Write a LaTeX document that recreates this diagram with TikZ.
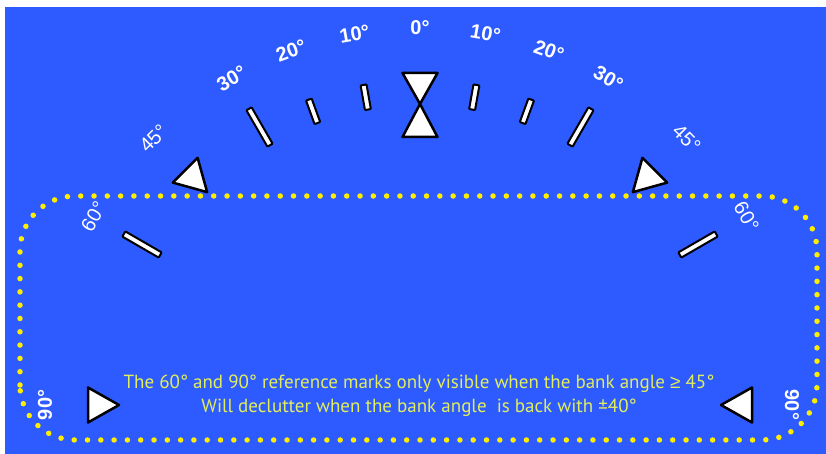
\documentclass[tikz,border=0pt]{standalone}
\usepackage{fontspec}
\setmainfont{Liberation Sans}
\newfontfamily\notefont{PT Sans}
\newfontfamily\symfont{Liberation Sans}
\definecolor{bgblue}{RGB}{46,91,255}
\definecolor{dotyellow}{RGB}{255,238,0}
\definecolor{notecol}{RGB}{226,238,90}
\begin{document}
\begin{tikzpicture}[x=1pt,y=1pt,
  tickbox/.style={draw=black,fill=white,line width=2pt,rounded corners=0.8pt},
  tri/.style={draw=black,fill=white,line width=2.5pt,line join=round},
  lab/.style={text=white,font=\bfseries\fontsize{20}{20}\selectfont,inner sep=0pt},
  labreg/.style={text=white,font=\fontsize{20}{20}\selectfont,inner sep=0pt},
  note/.style={text=notecol,font=\notefont\fontsize{19}{24}\selectfont,align=center,inner sep=0pt},
  dotline/.style={draw=dotyellow,line width=5.5pt,line cap=round,dash pattern=on 0pt off 13.3pt}]
\useasboundingbox (0,0) rectangle (826,454);
\fill[white] (0,0) rectangle (826,454);
\fill[bgblue] (5,0) rectangle (826,447);
\draw[dotline,rounded corners=55pt] (20,14) rectangle (817,258);
\begin{scope}[shift={(420,49)}]
  \foreach \a in {70,80,100,110} \draw[tickbox,rotate=\a] (300,-3) rectangle (325,3);
  \foreach \a in {30,60,120,150} \draw[tickbox,rotate=\a] (300,-3) rectangle (342,3);
  \foreach \a in {0,45,90,135,180} \draw[tri,rotate=\a] (301,0) -- (332,17.5) -- (332,-17.5) -- cycle;
  \draw[tri] (0,301) -- (-17.5,268) -- (17.5,268) -- cycle;
  \node[lab] (l0) at (90:377) {0°};
  \node[lab,rotate=10] (l10l) at (100:377) {10°};
  \node[lab,rotate=-10] (l10r) at (80:377) {10°};
  \node[lab,rotate=20] (l20l) at (110:377) {20°};
  \node[lab,rotate=-20] (l20r) at (70:377) {20°};
  \node[lab,rotate=30] (l30l) at (120:377) {30°};
  \node[lab,rotate=-30] (l30r) at (60:377) {30°};
  \node[labreg,rotate=45] (l45l) at (135:377) {45°};
  \node[labreg,rotate=-45] (l45r) at (45:377) {45°};
  \node[labreg,rotate=60] (l60l) at (150:377) {60°};
  \node[labreg,rotate=-60] (l60r) at (30:377) {60°};
  \node[lab,rotate=90] (l90l) at (180:375) {90°};
  \node[lab,rotate=-90] (l90r) at (0:372) {90°};
\end{scope}
\node[note] (note) at (419,58) {The 60° and 90° reference marks only visible when the bank angle {\symfont ≥} 45°\\Will declutter when the bank angle~ is back with ±40°};
\end{tikzpicture}
\end{document}
